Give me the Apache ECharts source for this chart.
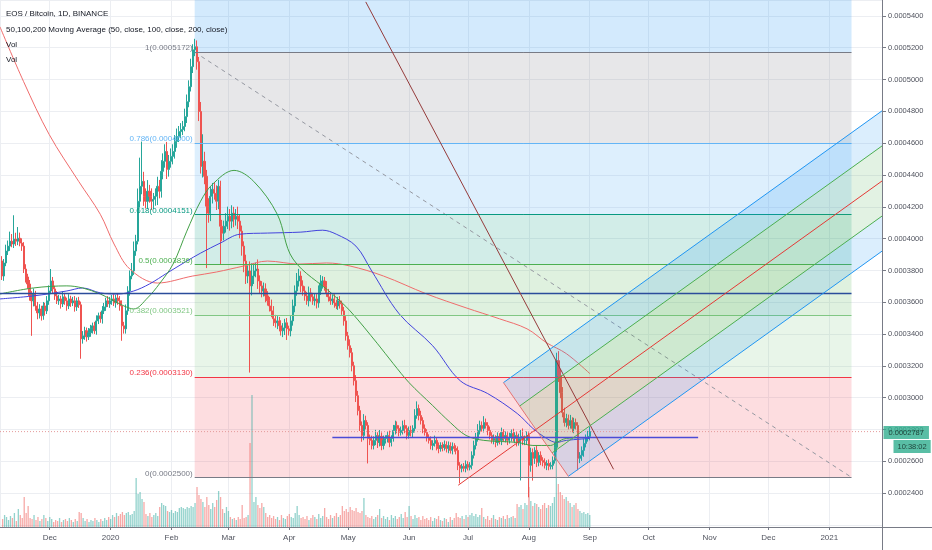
<!DOCTYPE html>
<html><head><meta charset="utf-8">
<script src="https://cdn.jsdelivr.net/npm/echarts/dist/echarts.min.js"></script>
<style>html,body{margin:0;padding:0;background:#fff}#c{width:932px;height:550px}</style>
</head><body><div id="c"></div>
<script>
// ---------- data (prices in units of 1e-7 BTC) ----------
const U = 1e-7;
const FIRST_OPEN = 3860;
// daily closes from 2019-11-07 to 2020-09-01
const closes = [
3765,3847,3922,3953,3984,3966,3997, 3984,4003,3972,3953,3809,3759,3715,
3640,3609,3652,3577,3533,3558,3515, 3577,3546,3609,3671,3734,3684,3640,
3609,3621,3590,3634,3609,3577,3621, 3596,3609,3571,3609,3584,3370,3389,
3421,3383,3408,3433,3452,3421,3483, 3515,3496,3546,3571,3609,3590,3609,
3621,3596,3627,3609,3577,3452,3433, 3546,3671,3765,3797,3922,3984,4235,
4329,4360,4266,4235,4298,4266,4235, 4247,4266,4329,4298,4423,4486,4548,
4435,4486,4517,4548,4611,4642,4673, 4686,4705,4767,4861,4955,5081,5187,
5206,5112,4799,4454,4486,4392,4204, 4160,4266,4310,4285,4235,4329,4078,
4034,4078,4110,4141,4110,4160,4122, 4141,4110,4047,3953,3859,3765,3797,
3703,3765,3797,3809,3734,3703,3671, 3684,3640,3609,3577,3546,3496,3471,
3483,3452,3421,3439,3471,3433,3421, 3483,3577,3671,3734,3765,3703,3671,
3640,3609,3659,3634,3609,3621,3596, 3671,3721,3734,3703,3659,3634,3609,
3621,3596,3577,3609,3590,3546,3483, 3389,3327,3283,3201,3107,3013,2919,
2826,2763,2857,2826,2744,2732,2700, 2732,2763,2719,2757,2700,2732,2744,
2763,2719,2744,2794,2826,2807,2782, 2794,2826,2807,2763,2794,2782,2807,
2888,2932,2888,2857,2807,2782,2750, 2732,2700,2713,2732,2694,2681,2700,
2688,2706,2681,2700,2669,2694,2681, 2669,2575,2556,2569,2556,2581,2563,
2575,2638,2700,2744,2794,2826,2807, 2844,2826,2794,2763,2732,2744,2719,
2757,2732,2782,2744,2763,2732,2750, 2775,2744,2763,2719,2744,2757,2732,
2732,2763,2575,2656,2619,2669,2594, 2638,2606,2594,2575,2587,2569,2575,
2606,2688,3233,3139,3032,2907,2844, 2869,2826,2857,2807,2844,2826,2619,
2638,2669,2713,2744,2757,2787
];
// upper wick above the body
const wickUp = [
30,25,40,35,60,45,150, 40,70,35,30,25,30,20, 25,30,35,20,25,30,20, 25,20,30,35,75,25,20,
30,25,20,35,25,20,30, 20,25,30,20,25,20,30, 25,20,30,25,20,25,35, 20,25,30,25,20,30,25,
25,30,20,25,30,35,25, 40,30,35,50,60,40,80, 180,250,60,50,70,40,50, 40,50,60,40,70,50,45,
60,40,50,45,40,50,35, 40,35,50,45,40,50,35, 50,40,30,60,170,60,40, 50,60,40,45,50,40,35,
40,35,50,60,45,50,40, 45,60,40,35,30,40,35, 60,80,50,40,60,35,30, 40,35,30,25,40,30,25,
30,25,35,30,25,30,20, 30,40,35,50,45,30,35, 30,25,40,30,25,35,30, 35,50,30,25,30,25,20,
25,30,20,25,30,20,25, 30,25,40,30,25,35,30, 30,25,40,30,20,25,30, 25,35,20,40,25,30,20,
25,30,20,35,30,25,20, 25,30,35,20,25,30,20, 40,45,25,30,20,25,20, 20,25,20,30,20,25,20,
20,25,20,25,20,25,20, 20,25,20,15,20,25,20, 20,25,30,35,40,30,25, 40,25,20,25,20,25,20,
25,20,30,20,25,20,30, 25,30,20,25,30,40,50, 30,25,20,30,25,20,30, 20,25,20,25,20,25,20,
25,30,50,60,40,35,30, 30,25,35,20,30,25,20, 20,25,30,25,35,30
];
// lower wick below the body
const wickDn = [
25,30,20,25,30,20,25, 30,25,20,30,25,35,30, 30,220,35,30,40,35,30, 25,30,20,25,20,30,25,
20,25,30,20,25,30,20, 25,20,30,25,20,125,30, 25,30,20,25,30,20,25, 20,25,30,20,25,20,25,
25,20,30,25,30,94,30, 30,25,30,20,25,30,20, 40,50,60,45,50,40,55, 50,40,55,45,40,50,40,
60,45,40,50,45,40,35, 40,35,30,40,35,30,40, 40,50,60,45,70,50,389, 60,50,45,40,55,50,238,
50,45,40,50,60,45,50, 40,50,45,60,70,50,45, 545,60,50,40,50,45,40, 35,40,30,35,40,45,30,
40,35,30,40,45,70,30, 35,30,40,30,35,40,30, 30,25,35,30,25,30,35, 30,25,35,30,25,30,25,
25,30,20,25,30,25,30, 30,25,30,35,30,40,30, 35,40,30,25,157,30,25, 25,30,35,25,30,25,20,
25,30,25,20,25,30,25, 20,25,30,25,20,25,30, 25,20,30,25,30,20,25, 20,25,30,20,25,30,20,
25,20,25,30,20,25,20, 25,30,94,25,20,25,20, 20,25,20,25,20,25,20, 25,20,30,25,20,25,30,
20,25,30,20,25,30,20, 25,20,30,25,20,264,30, 30,25,201,40,140,35,30, 25,30,25,20,30,25,20,
25,20,30,40,35,30,25, 30,25,20,25,30,25,75, 30,35,40,25,20,25
];
// daily volume (relative units)
const volume = [
8,12,10,7,11,9,14, 6,18,12,9,30,14,21, 9,8,12,7,10,6,8, 12,9,6,10,8,5,7,
6,9,5,7,8,6,9, 7,5,8,6,15,14,9, 6,8,5,7,6,9,7, 5,8,6,9,7,10,8,
12,10,14,11,13,15,12, 14,15,12,13,16,49,33, 35,28,25,13,11,14,10, 12,14,11,20,24,22,21,
16,15,17,14,16,15,19, 20,19,18,20,19,21,20, 24,40,32,28,25,20,30, 22,18,24,20,27,36,30,
18,14,20,16,10,8,9, 7,10,8,22,9,10,12, 84,132,25,30,22,19,24, 20,14,10,12,9,11,8,
10,7,12,9,8,11,13, 10,9,14,21,12,9,10, 8,11,7,9,12,10,8, 13,9,11,19,10,8,12,
9,11,14,10,12,21,16, 18,15,20,17,16,19,15, 14,16,29,12,10,9,11, 8,10,12,18,9,11,8,
10,7,12,9,11,8,10, 13,9,15,10,21,11,8, 12,9,10,7,11,8,9, 7,10,6,9,8,11,7,
6,9,8,5,10,7,9, 14,10,9,11,8,12,10, 12,14,11,13,10,12,19, 10,8,11,7,9,12,8,
7,10,9,11,8,12,9, 10,11,9,23,20,22,18, 24,22,40,26,21,24,23, 20,18,22,24,19,22,21,
24,30,140,43,35,32,28, 30,26,24,20,22,24,18, 16,14,15,13,14,12
];
// moving averages (day offset from 2019-11-06, value)
const ma50Days = [0,17,34,42,51,56,63,68,75,81,88,95,102,108,119,129,141,149,169,178,192,200,208,220,229,237,246,263,271,280,283,288,300];
const ma50 = [3652,3690,3703,3690,3652,3621,3577,3558,3627,3715,3840,4047,4235,4341,4429,4360,4153,3872,3652,3546,3339,3214,3095,2951,2844,2763,2732,2719,2700,2700,2719,2744,2750];
const ma100Days = [0,17,34,42,51,60,68,76,85,95,102,112,122,136,153,164,171,181,189,203,220,234,248,263,271,278,283,288,300];
const ma100 = [3621,3640,3671,3690,3659,3652,3671,3715,3784,3859,3909,3972,4028,4035,4041,4053,4028,3953,3797,3527,3327,3107,3026,2901,2807,2744,2719,2732,2744];
const ma200Days = [0,12,25,40,51,58,66,80,98,110,124,136,152,166,178,195,217,237,254,268,278,288,300];
const ma200 = [5331,4987,4655,4360,4153,3966,3809,3721,3765,3790,3828,3859,3840,3847,3828,3765,3652,3565,3496,3433,3345,3277,3151];
// Fibonacci retracement
const fibStart = '2020-02-13', fibEnd = '2021-01-12';
const fibHigh = 5172.2, fibLow = 2499.7;
const fibLevels = [0, 0.236, 0.382, 0.5, 0.618, 0.786, 1];
const fibNames = ['0', '0.236', '0.382', '0.5', '0.618', '0.786', '1'];
// drawings
const hLine1 = {from: '2019-11-06', to: '2021-01-12', value: 3655};
const hLine2 = {from: '2020-04-23', to: '2020-10-26', value: 2750};
const brownLine = [['2020-05-10', 5488], ['2020-09-13', 2550]];
const pfA = ['2020-06-26', 2450], pfB = ['2020-07-19', 3095], pfC = ['2020-08-21', 2506];
const pfLevels = [0, 0.25, 0.5, 0.75, 1];
const countdown = '10:38:02';

// ---------- styling ----------
const FONT = 'Liberation Sans, Arial, sans-serif';
const UP = '#26a69a', DN = '#ef5350';
const VOL_UP = 'rgba(38,166,154,0.5)', VOL_DN = 'rgba(239,83,80,0.5)';
const Y_MIN = 0.00022, Y_MAX = 0.00055, Y_STEP = 0.00002;
const VOL_AXIS_MAX = 527;
const fibLineColors = ['#787b86', '#f23645', '#81c784', '#4caf50', '#089981', '#64b5f6', '#787b86'];
const fibZoneColors = ['rgba(242,54,69,0.17)', 'rgba(129,199,132,0.18)', 'rgba(76,175,80,0.18)',
  'rgba(8,153,129,0.18)', 'rgba(100,181,246,0.22)', 'rgba(120,123,134,0.18)', 'rgba(33,150,243,0.2)'];
const pfLineColors = ['#2196f3', '#4caf50', '#e53935', '#4caf50', '#2196f3'];
const pfFills = ['rgba(33,150,243,0.16)', 'rgba(76,175,80,0.16)', 'rgba(76,175,80,0.16)', 'rgba(33,150,243,0.16)'];
const PRICE_BOX = '#2fae8e';

// ---------- helpers ----------
const DAY = 86400000;
const day = off => new Date(2019, 10, 6 + off).getTime();
const ts = s => { const [y, m, d] = s.split('-').map(Number); return new Date(y, m - 1, d).getTime(); };
const X_MIN = day(0), X_MAX = new Date(2021, 0, 27, 12).getTime();

const candles = [], vols = [];
let prev = FIRST_OPEN;
for (let i = 0; i < closes.length; i++) {
  const o = prev, c = closes[i];
  const hi = Math.max(o, c) + wickUp[i], lo = Math.min(o, c) - wickDn[i];
  const t = day(i + 1);
  candles.push([t, o * U, c * U, lo * U, hi * U]);
  vols.push({value: [t, volume[i]], itemStyle: {color: c >= o ? VOL_UP : VOL_DN}});
  prev = c;
}
const lastClose = closes[closes.length - 1];

// fib
const fibPrice = l => fibLow + l * (fibHigh - fibLow);
const fS = ts(fibStart), fE = ts(fibEnd);
const fibAreas = fibLevels.map((l, k) => {
  const lo = fibPrice(l) * U;
  const hi = k < fibLevels.length - 1 ? fibPrice(fibLevels[k + 1]) * U : Y_MAX;
  return [{coord: [fS, lo], itemStyle: {color: fibZoneColors[k]}}, {coord: [fE, hi]}];
});
const fibLines = fibLevels.map((l, k) => {
  const p = fibPrice(l);
  return [{coord: [fS, p * U], lineStyle: {color: fibLineColors[k], width: 1, type: 'solid'},
    label: {show: true, position: 'start', distance: 2, formatter: fibNames[k] + '(' + (p * U).toFixed(7) + ')',
      color: fibLineColors[k], fontSize: 8, fontFamily: FONT, verticalAlign: 'bottom', align: 'right'}},
    {coord: [fE, p * U]}];
});

// pitchfork
const A = [ts(pfA[0]), pfA[1]], B = [ts(pfB[0]), pfB[1]], C = [ts(pfC[0]), pfC[1]];
const M = [(B[0] + C[0]) / 2, (B[1] + C[1]) / 2];
const slope = (M[1] - A[1]) / (M[0] - A[0]);
const onBC = f => [B[0] + f * (C[0] - B[0]), B[1] + f * (C[1] - B[1])];
const ext = p => [X_MAX, p[1] + slope * (X_MAX - p[0])];
const toXY = p => [p[0], p[1] * U];
const pfPolys = [];
for (let k = 0; k < pfLevels.length - 1; k++) {
  const p0 = onBC(pfLevels[k]), p1 = onBC(pfLevels[k + 1]);
  pfPolys.push([p0, p1, ext(p1), ext(p0)]);
}
const simpleLine = (pts, color, width, extra) => Object.assign({
  type: 'line', xAxisIndex: 0, yAxisIndex: 0, data: pts.map(toXY), showSymbol: false, symbol: 'none',
  silent: true, animation: false, lineStyle: {color, width}, z: 7
}, extra || {});

const series = [];
// volume
series.push({type: 'bar', xAxisIndex: 1, yAxisIndex: 1, data: vols, barWidth: 1.3, silent: true, z: 1});
// fib zones + level lines + trend line
series.push({
  type: 'line', xAxisIndex: 0, yAxisIndex: 0, z: 2, silent: true, symbol: 'none',
  data: [[fS, fibHigh * U], [fE, fibLow * U]],
  lineStyle: {color: '#9598a1', width: 1, type: [4, 4]},
  markArea: {silent: true, data: fibAreas, z: 1},
  markLine: {silent: true, symbol: ['none', 'none'], data: fibLines, animation: false}
});
// horizontal lines & brown trend line
series.push(simpleLine([[ts(hLine1.from), hLine1.value], [ts(hLine1.to), hLine1.value]], '#2b4c9b', 1.5));
series.push(simpleLine([[ts(hLine2.from), hLine2.value], [ts(hLine2.to), hLine2.value]], '#4b4bd6', 1.5));
series.push(simpleLine(brownLine.map(p => [ts(p[0]), p[1]]), '#953b3b', 1));
// MAs
const maSeries = (days, vals, color) => ({
  type: 'line', xAxisIndex: 0, yAxisIndex: 0, data: days.map((d, k) => [day(d), vals[k] * U]),
  smooth: 0.35, showSymbol: false, symbol: 'none', silent: true, lineStyle: {color, width: 1}, z: 4
});
series.push(maSeries(ma200Days, ma200, '#ef6c6c'));
series.push(maSeries(ma100Days, ma100, '#4343dc'));
series.push(maSeries(ma50Days, ma50, '#43a047'));
// candles
series.push({
  type: 'candlestick', xAxisIndex: 0, yAxisIndex: 0, data: candles, encode: {x: 0, y: [1, 2, 3, 4]},
  barWidth: 1.6, silent: true, z: 3,
  itemStyle: {color: UP, color0: DN, borderColor: UP, borderColor0: DN, borderWidth: 1}
});
// last price line
series.push(simpleLine([[X_MIN, lastClose], [X_MAX, lastClose]], '#e59a9a', 1, {
  lineStyle: {color: '#e59a9a', width: 1, type: [1, 2]}, z: 8
}));
// last price tag on the price scale
series.push({
  type: 'scatter', xAxisIndex: 0, yAxisIndex: 0, z: 30, silent: true, clip: false, animation: false,
  symbolSize: 1, itemStyle: {color: 'rgba(0,0,0,0)'},
  data: [
    {value: [X_MAX, lastClose * U],
      label: {show: true, position: 'right', distance: 1, offset: [0, 1], formatter: '{p|' + (lastClose * U).toFixed(7) + '}',
        rich: {p: {backgroundColor: PRICE_BOX, color: '#10231e', fontSize: 7.5, fontFamily: FONT, padding: [3, 5, 2, 5]}}}},
    {value: [X_MAX, lastClose * U],
      label: {show: true, position: 'right', distance: 1, offset: [10, 15], formatter: '{t|' + countdown + '}',
        rich: {t: {backgroundColor: PRICE_BOX, color: '#10231e', fontSize: 7.5, fontFamily: FONT, padding: [3, 4, 2, 4]}}}}
  ]
});
// pitchfork fills
series.push({
  type: 'custom', xAxisIndex: 0, yAxisIndex: 0, z: 6, silent: true,
  data: pfPolys.map((poly, k) => [poly[0][0], poly[0][1] * U, k]), encode: {x: 0, y: 1},
  renderItem: (params, api) => {
    const poly = pfPolys[params.dataIndex];
    return {type: 'polygon', shape: {points: poly.map(p => api.coord(toXY(p)))},
      style: {fill: pfFills[params.dataIndex]}};
  }
});
// pitchfork lines
pfLevels.forEach((f, k) => {
  const start = f === 0.5 ? A : onBC(f);
  const end = ext(f === 0.5 ? M : onBC(f));
  series.push(simpleLine([start, end], pfLineColors[k], 1));
});
series.push(simpleLine([B, C], '#e57373', 1));

const option = {
  animation: false,
  backgroundColor: '#ffffff',
  textStyle: {fontFamily: FONT},
  grid: [
    {left: 0, right: 50, top: -2, bottom: 25},
    {left: 0, right: 50, top: 0, bottom: 23}
  ],
  xAxis: [
    {type: 'time', gridIndex: 0, min: X_MIN, max: X_MAX, show: false},
    {type: 'time', gridIndex: 1, min: X_MIN, max: X_MAX, splitNumber: 16, minInterval: 28 * DAY, maxInterval: 31 * DAY,
      axisLine: {show: false},
      axisTick: {show: true, length: 3, lineStyle: {color: '#787b86'}},
      axisLabel: {color: '#50535e', fontSize: 8, fontFamily: FONT, margin: 7,
        formatter: {year: '{yyyy}', month: '{MMM}', day: '{d}'}},
      splitLine: {show: true, lineStyle: {color: '#eceef2', width: 1}}}
  ],
  yAxis: [
    {type: 'value', gridIndex: 0, position: 'right', min: Y_MIN, max: Y_MAX, interval: Y_STEP,
      axisLine: {show: false},
      axisTick: {show: true, length: 4, lineStyle: {color: '#787b86'}},
      axisLabel: {color: '#50535e', fontSize: 7.5, fontFamily: FONT, margin: 6,
        showMinLabel: false, showMaxLabel: false, formatter: v => v.toFixed(7)},
      splitLine: {show: true, lineStyle: {color: '#eceef2', width: 1}}},
    {type: 'value', gridIndex: 1, min: 0, max: VOL_AXIS_MAX, show: false}
  ],
  series,
  graphic: [
    {type: 'line', shape: {x1: 882.5, y1: 0, x2: 882.5, y2: 550}, style: {stroke: '#787b86', lineWidth: 1}, z: 50, silent: true},
    {type: 'line', shape: {x1: 0, y1: 527.5, x2: 932, y2: 527.5}, style: {stroke: '#787b86', lineWidth: 1}, z: 50, silent: true},
    {type: 'text', left: 6, top: 10, z: 60, style: {text: 'EOS / Bitcoin, 1D, BINANCE', font: '8px ' + FONT, fill: '#131722'}},
    {type: 'text', left: 6, top: 26, z: 60, style: {text: '50,100,200 Moving Average (50, close, 100, close, 200, close)', font: '8px ' + FONT, fill: '#131722'}},
    {type: 'text', left: 6, top: 41, z: 60, style: {text: 'Vol', font: '8px ' + FONT, fill: '#131722'}},
    {type: 'text', left: 6, top: 56, z: 60, style: {text: 'Vol', font: '8px ' + FONT, fill: '#131722'}}
  ]
};
const chart = echarts.init(document.getElementById('c'), null, {renderer: 'canvas'});
chart.setOption(option);
</script>
</body></html>
